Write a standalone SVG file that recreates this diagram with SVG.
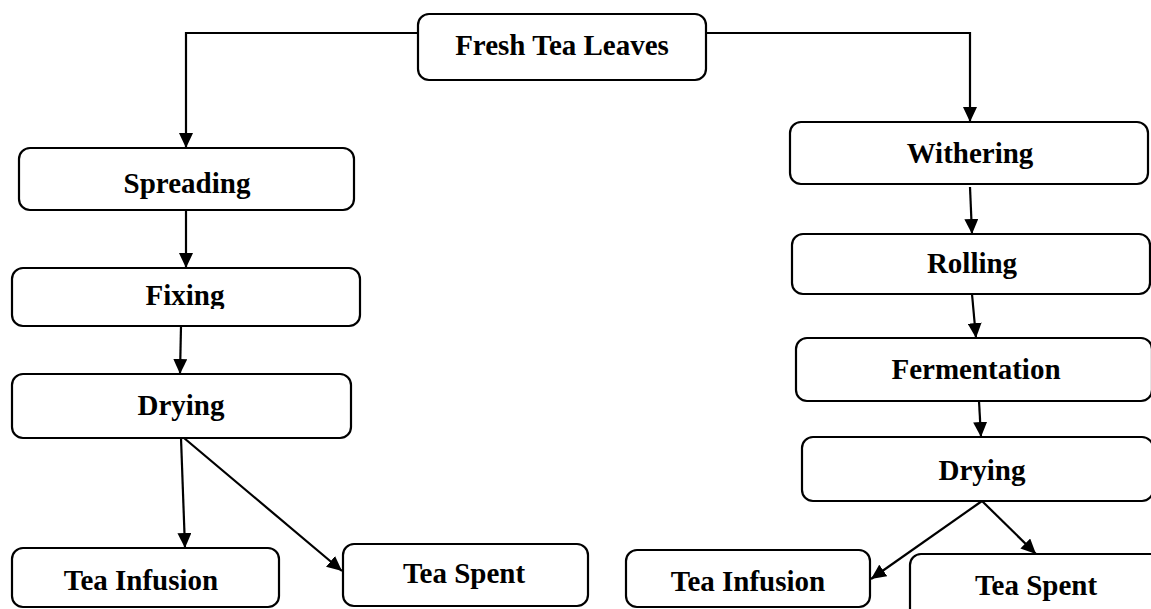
<svg xmlns="http://www.w3.org/2000/svg" width="1151" height="609" viewBox="0 0 1151 609">
  <style>
    .box { fill: #ffffff; stroke: #000000; stroke-width: 2.2; }
    .lbl { font-family: "Liberation Serif", "Times New Roman", serif; font-weight: bold; font-size: 29px; fill: #000000; text-anchor: middle; }
    .edge { fill: none; stroke: #000000; stroke-width: 2.2; marker-end: url(#arrow); }
  </style>
  <defs>
    <marker id="arrow" markerUnits="userSpaceOnUse" markerWidth="16" markerHeight="14" refX="15" refY="7" orient="auto">
      <path d="M0,0 L15,7 L0,14 z" fill="#000000"/>
    </marker>
    <!-- the Fixing label is cut off just below its baseline -->
    <clipPath id="fixClip">
      <rect x="12" y="268" width="348" height="41"/>
    </clipPath>
  </defs>
  <rect width="1151" height="609" fill="#ffffff"/>

  <!-- connectors -->
  <g id="connectors">
    <path class="edge" d="M418,33 H186 V148"/>
    <path class="edge" d="M706,33 H970 V122"/>
    <path class="edge" d="M186,210 V268"/>
    <path class="edge" d="M181,326 L180,374"/>
    <path class="edge" d="M181,438 L185,548"/>
    <path class="edge" d="M184,438 L342,571"/>
    <path class="edge" d="M970,187 L972,234"/>
    <path class="edge" d="M972,294 L976,338"/>
    <path class="edge" d="M979,401 L981,437"/>
    <path class="edge" d="M982,501 L871,579"/>
    <path class="edge" d="M982,501 L1036,554"/>
  </g>

  <!-- top node -->
  <g id="fresh-tea-leaves">
    <rect class="box" x="418" y="14" width="288" height="66" rx="11"/>
    <text class="lbl" x="562" y="55">Fresh Tea Leaves</text>
  </g>

  <!-- left branch -->
  <g id="spreading">
    <rect class="box" x="19" y="148" width="335" height="62" rx="11"/>
    <text class="lbl" x="187" y="193">Spreading</text>
  </g>
  <g id="fixing">
    <rect class="box" x="12" y="268" width="348" height="58" rx="11"/>
    <text class="lbl" x="185" y="305" clip-path="url(#fixClip)">Fixing</text>
  </g>
  <g id="drying-left">
    <rect class="box" x="12" y="374" width="339" height="64" rx="11"/>
    <text class="lbl" x="181" y="415">Drying</text>
  </g>
  <g id="tea-infusion-left">
    <rect class="box" x="12" y="548" width="267" height="59" rx="11"/>
    <text class="lbl" x="141" y="590">Tea Infusion</text>
  </g>
  <g id="tea-spent-left">
    <rect class="box" x="343" y="544" width="245" height="62" rx="11"/>
    <text class="lbl" x="464" y="583">Tea Spent</text>
  </g>

  <!-- right branch -->
  <g id="withering">
    <rect class="box" x="790" y="122" width="358" height="62" rx="11"/>
    <text class="lbl" x="970" y="163">Withering</text>
  </g>
  <g id="rolling">
    <rect class="box" x="792" y="234" width="358" height="60" rx="11"/>
    <text class="lbl" x="972" y="273">Rolling</text>
  </g>
  <g id="fermentation">
    <rect class="box" x="796" y="338" width="356" height="63" rx="11"/>
    <text class="lbl" x="976" y="379">Fermentation</text>
  </g>
  <g id="drying-right">
    <rect class="box" x="802" y="437" width="351" height="64" rx="11"/>
    <text class="lbl" x="982" y="480">Drying</text>
  </g>
  <g id="tea-infusion-right">
    <rect class="box" x="626" y="550" width="244" height="57" rx="11"/>
    <text class="lbl" x="748" y="591">Tea Infusion</text>
  </g>
  <g id="tea-spent-right">
    <rect class="box" x="910" y="554" width="252" height="70" rx="11"/>
    <text class="lbl" x="1036" y="595">Tea Spent</text>
  </g>
</svg>
